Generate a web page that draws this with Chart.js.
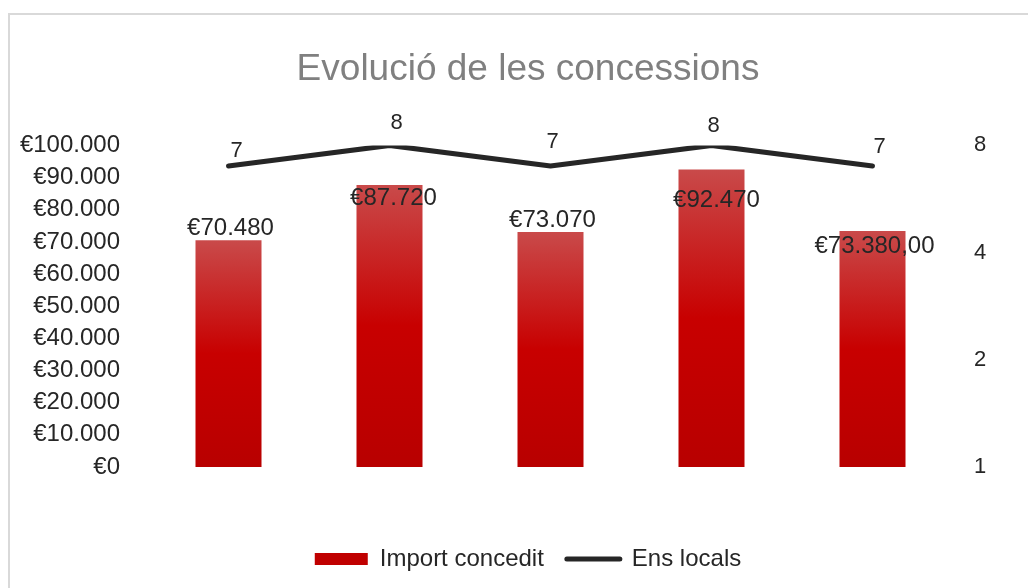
<!DOCTYPE html>
<html>
<head>
<meta charset="utf-8">
<title>Evolució de les concessions</title>
<script src="https://cdn.jsdelivr.net/npm/chart.js@4.4.1/dist/chart.umd.min.js"></script>
<style>
    html, body { margin: 0; padding: 0; background: #fff; overflow: hidden; }
    #wrap { position: relative; width: 1028px; height: 588px; overflow: hidden; }
    #frame {
        position: absolute; left: 8px; top: 13px; width: 1100px; height: 700px;
        border-left: 2px solid #d9d9d9; border-top: 2px solid #d9d9d9;
        pointer-events: none;
    }
    canvas { position: absolute; left: 0; top: 0; }
</style>
</head>
<body>
<div id="wrap">
    <!-- the chart frame runs a little past the right edge of the page -->
    <canvas id="chart" width="1056" height="588"></canvas>
    <div id="frame"></div>
</div>
<script>
// Years aren't shown on the axis, so categories are just placeholders
const periods = ['1', '2', '3', '4', '5'];
const importValues = [70480, 87720, 73070, 92470, 73380];
const importDecimals = [0, 0, 0, 0, 2];
const localValues = [7, 8, 7, 8, 7];
const rightTicks = [1, 2, 4, 8];

// label nudges in px [dx, dy] relative to bar top / line point
const barLabelShift = [[2, -12], [4, 13], [2, -12], [5, 31], [2, 15]];
const lineLabelShift = [[8, -15], [7, -22], [2, -24], [2, -19], [7, -19]];

const FONT = '"Liberation Sans", Arial, sans-serif';
Chart.defaults.font.family = FONT;
Chart.defaults.color = '#262626';

function euro(v, dec = 0) {
    const parts = v.toFixed(dec).split('.');
    const whole = parts[0].replace(/\B(?=(\d{3})+(?!\d))/g, '.');
    return '€' + whole + (parts[1] ? ',' + parts[1] : '');
}

// each bar gets its own gradient, lighter at the top
function barFill(context) {
    const chart = context.chart;
    const y = chart.scales.y;
    if (!chart.chartArea || !y || context.type !== 'data') return '#c00000';
    const top = y.getPixelForValue(context.raw);
    const bottom = y.getPixelForValue(0);
    const g = chart.ctx.createLinearGradient(0, top, 0, bottom);
    g.addColorStop(0, '#c94a4a');
    g.addColorStop(0.5, '#c80000');
    g.addColorStop(1, '#b80000');
    return g;
}

// draws the value labels for bars and line
const valueLabels = {
    id: 'valueLabels',
    afterDatasetsDraw(chart) {
        const ctx = chart.ctx;
        ctx.save();
        ctx.textAlign = 'center';
        ctx.textBaseline = 'middle';
        ctx.fillStyle = '#262626';

        ctx.font = '24px ' + FONT;
        chart.getDatasetMeta(0).data.forEach((bar, i) => {
            const s = barLabelShift[i];
            ctx.fillText(euro(importValues[i], importDecimals[i]), bar.x + s[0], bar.y + s[1]);
        });

        ctx.font = '22px ' + FONT;
        chart.getDatasetMeta(1).data.forEach((pt, i) => {
            const s = lineLabelShift[i];
            ctx.fillText(String(localValues[i]), pt.x + s[0], pt.y + s[1]);
        });
        ctx.restore();
    }
};

new Chart(document.getElementById('chart'), {
    type: 'bar',
    data: {
        labels: periods,
        datasets: [{
            type: 'bar',
            label: 'Import concedit',
            data: importValues,
            backgroundColor: barFill,
            borderWidth: 0,
            categoryPercentage: 1,
            barPercentage: 0.41,
            yAxisID: 'y',
            order: 1
        }, {
            type: 'line',
            label: 'Ens locals',
            data: localValues,
            borderColor: '#262626',
            borderWidth: 5,
            borderCapStyle: 'round',
            borderJoinStyle: 'round',
            pointRadius: 0,
            tension: 0,
            fill: false,
            yAxisID: 'y2',
            order: 0
        }]
    },
    options: {
        responsive: false,
        animation: false,
        devicePixelRatio: 1,
        layout: { padding: { left: 0, right: 0, top: 0, bottom: 7 } },
        plugins: {
            title: {
                display: true,
                text: 'Evolució de les concessions',
                color: '#808080',
                font: { size: 37, weight: 'normal' },
                padding: { top: 48, bottom: 53 }
            },
            legend: {
                position: 'bottom',
                labels: {
                    usePointStyle: true,
                    pointStyleWidth: 53,
                    boxHeight: 12,
                    padding: 23,
                    color: '#262626',
                    font: { size: 24 },
                    generateLabels(chart) {
                        return chart.data.datasets.map((ds, i) => ({
                            text: ds.label,
                            datasetIndex: i,
                            fillStyle: i === 0 ? '#c00000' : '#262626',
                            strokeStyle: '#262626',
                            lineWidth: i === 0 ? 0 : 5,
                            lineCap: 'round',
                            pointStyle: i === 0 ? 'rect' : 'line',
                            fontColor: '#262626',
                            hidden: false
                        }));
                    }
                }
            },
            tooltip: { enabled: false }
        },
        scales: {
            x: {
                display: true,
                grid: { display: false },
                border: { display: false },
                ticks: { display: false },
                afterFit(scale) { scale.height = 57; }
            },
            y: {
                position: 'left',
                min: 0,
                max: 100000,
                grid: { display: false, drawTicks: false },
                border: { display: false },
                ticks: {
                    stepSize: 10000,
                    padding: 28,
                    font: { size: 24 },
                    color: '#262626',
                    callback: v => euro(v)
                },
                afterFit(scale) { scale.width = 148; }
            },
            y2: {
                type: 'logarithmic',
                position: 'right',
                min: 1,
                max: 8,
                grid: { display: false, drawTicks: false },
                border: { display: false },
                ticks: {
                    padding: 21,
                    font: { size: 22 },
                    color: '#262626',
                    callback: v => String(v)
                },
                afterBuildTicks(scale) {
                    scale.ticks = rightTicks.map(v => ({ value: v }));
                },
                afterFit(scale) { scale.width = 103; }
            }
        }
    },
    plugins: [valueLabels]
});
</script>
</body>
</html>
